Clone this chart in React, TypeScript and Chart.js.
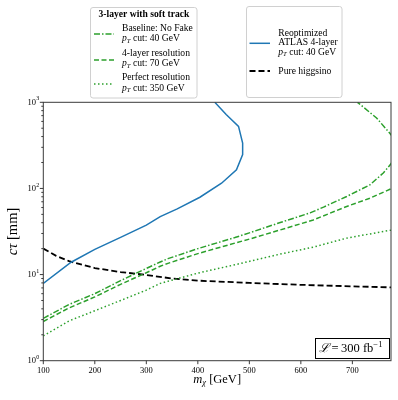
import { useEffect, useRef } from "react";
import { Chart, registerables } from "chart.js";

Chart.register(...registerables);

// ---------- data ----------
const BLUE_MASS = [100, 154, 200, 250, 300, 327, 360, 404, 446, 475, 487, 487, 479, 455, 433];
const BLUE_CTAU = [7.9, 13.9, 19.6, 27, 37.5, 47, 58, 79, 115, 165, 247, 337, 525, 720, 1000];

const BASE_MASS = [100, 150, 200, 250, 300, 327, 342, 400, 472, 500, 560, 618, 644, 689, 734, 760, 775, 790, 775, 747, 710];
const BASE_CTAU = [3.1, 4.5, 6.0, 8.5, 11.8, 14, 15.3, 20, 26.9, 30.5, 40.2, 52, 60.7, 80.7, 110, 151, 193, 290, 421, 658, 1000];

const FOUR_MASS = [100, 150, 200, 250, 300, 327, 342, 400, 472, 500, 560, 624, 689, 734, 775];
const FOUR_CTAU = [2.85, 4.1, 5.5, 7.7, 10.5, 12.5, 13.5, 17.5, 23.2, 25.8, 33, 43, 61.8, 77, 99];

const PERF_MASS = [100, 150, 200, 250, 300, 327, 400, 472, 560, 624, 689, 775];
const PERF_CTAU = [1.94, 2.9, 3.8, 5.0, 6.6, 7.9, 10.4, 13, 17.3, 20.8, 26.5, 32.8];

const HIGG_MASS = [100, 125, 150, 200, 250, 300, 350, 400, 500, 600, 700, 775];
const HIGG_CTAU = [20, 16.5, 14.3, 11.9, 10.7, 9.9, 9.0, 8.5, 8.0, 7.6, 7.3, 7.1];

const X_TICKS = [100, 200, 300, 400, 500, 600, 700];
const Y_DECADES = [0, 1, 2, 3];
const X_MIN = 100;
const X_MAX = 775;

const LEG1_TITLE = "3-layer with soft track";
const LEG1_LINES = ["Baseline: No Fake", "4-layer resolution", "Perfect resolution"];
const LEG1_CUTS = [" cut: 40 GeV", " cut: 70 GeV", " cut: 350 GeV"];
const LEG2_LINES = ["Reoptimized", "ATLAS 4-layer"];
const LEG2_CUT = " cut: 40 GeV";
const LEG2_HIGG = "Pure higgsino";
const LUMI_TEXT = "\u2009=\u2009300 fb";

const GREEN = "#2ca02c";
const BLUE = "#1f77b4";
const SERIF = "'Liberation Serif', 'Times New Roman', serif";

const DASHDOT = [6, 2, 1.5, 2];
const DASHED = [5, 2.5];
const DOTTED = [1.5, 2.5];
const BLACKDASH = [6, 3];

function pts(xs: number[], ys: number[]) {
  return xs.map((x, i) => ({ x, y: ys[i] }));
}

function drawPT(ctx: CanvasRenderingContext2D, x: number, y: number, rest: string, size: number) {
  ctx.textAlign = "left";
  ctx.textBaseline = "middle";
  ctx.font = `italic ${size}px ${SERIF}`;
  ctx.fillText("p", x, y);
  let w = ctx.measureText("p").width;
  ctx.font = `italic ${size * 0.7}px ${SERIF}`;
  ctx.fillText("T", x + w, y + 2);
  w += ctx.measureText("T").width;
  ctx.font = `${size}px ${SERIF}`;
  ctx.fillText(rest, x + w, y);
}

function roundRect(ctx: CanvasRenderingContext2D, x: number, y: number, w: number, h: number, r: number) {
  ctx.beginPath();
  ctx.moveTo(x + r, y);
  ctx.lineTo(x + w - r, y);
  ctx.quadraticCurveTo(x + w, y, x + w, y + r);
  ctx.lineTo(x + w, y + h - r);
  ctx.quadraticCurveTo(x + w, y + h, x + w - r, y + h);
  ctx.lineTo(x + r, y + h);
  ctx.quadraticCurveTo(x, y + h, x, y + h - r);
  ctx.lineTo(x, y + r);
  ctx.quadraticCurveTo(x, y, x + r, y);
  ctx.closePath();
}

function handle(ctx: CanvasRenderingContext2D, x0: number, x1: number, y: number, color: string, dash: number[], lw: number) {
  ctx.save();
  ctx.strokeStyle = color;
  ctx.lineWidth = lw;
  ctx.setLineDash(dash);
  ctx.beginPath();
  ctx.moveTo(x0, y);
  ctx.lineTo(x1, y);
  ctx.stroke();
  ctx.restore();
}

const decorPlugin = {
  id: "decor",
  afterDraw(chart: any) {
    const ctx: CanvasRenderingContext2D = chart.ctx;
    const a = chart.chartArea;
    const xs = chart.scales.x;
    const ys = chart.scales.y;
    ctx.save();

    // frame
    ctx.strokeStyle = "#3a3a3a";
    ctx.lineWidth = 1;
    ctx.setLineDash([]);
    ctx.strokeRect(a.left, a.top, a.right - a.left, a.bottom - a.top);

    // x ticks
    ctx.fillStyle = "#000";
    ctx.font = `8.5px ${SERIF}`;
    ctx.textAlign = "center";
    ctx.textBaseline = "top";
    for (const v of X_TICKS) {
      const px = xs.getPixelForValue(v);
      ctx.beginPath();
      ctx.moveTo(px, a.bottom);
      ctx.lineTo(px, a.bottom + 3.5);
      ctx.stroke();
      ctx.fillText(String(v), px, a.bottom + 6);
    }

    // y ticks
    for (const d of Y_DECADES) {
      const py = ys.getPixelForValue(Math.pow(10, d));
      ctx.beginPath();
      ctx.moveTo(a.left, py);
      ctx.lineTo(a.left - 3.5, py);
      ctx.stroke();
      ctx.textAlign = "right";
      ctx.textBaseline = "middle";
      ctx.font = `6px ${SERIF}`;
      const supW = ctx.measureText(String(d)).width;
      ctx.fillText(String(d), a.left - 4, py - 3.5);
      ctx.font = `8.5px ${SERIF}`;
      ctx.fillText("10", a.left - 4 - supW - 0.3, py);
      if (d < 3) {
        for (let k = 2; k <= 9; k++) {
          const pm = ys.getPixelForValue(k * Math.pow(10, d));
          ctx.beginPath();
          ctx.moveTo(a.left, pm);
          ctx.lineTo(a.left - 2, pm);
          ctx.stroke();
        }
      }
    }

    // x axis title
    {
      const cx = (a.left + a.right) / 2;
      const cy = 380;
      ctx.textBaseline = "middle";
      ctx.textAlign = "left";
      ctx.font = `italic 12.5px ${SERIF}`;
      const wm = ctx.measureText("m").width;
      ctx.font = `italic 8.5px ${SERIF}`;
      const wc = ctx.measureText("χ").width;
      ctx.font = `12.5px ${SERIF}`;
      const wr = ctx.measureText(" [GeV]").width;
      let x = cx - (wm + wc + wr) / 2;
      ctx.font = `italic 12.5px ${SERIF}`;
      ctx.fillText("m", x, cy);
      x += wm;
      ctx.font = `italic 8.5px ${SERIF}`;
      ctx.fillText("χ", x, cy + 3);
      x += wc;
      ctx.font = `12.5px ${SERIF}`;
      ctx.fillText(" [GeV]", x, cy);
    }

    // y axis title
    {
      ctx.save();
      ctx.translate(13, (a.top + a.bottom) / 2);
      ctx.rotate(-Math.PI / 2);
      ctx.textBaseline = "middle";
      ctx.textAlign = "left";
      ctx.font = `italic 14.5px ${SERIF}`;
      const w1 = ctx.measureText("cτ").width;
      ctx.font = `14.5px ${SERIF}`;
      const w2 = ctx.measureText(" [mm]").width;
      let x = -(w1 + w2) / 2;
      ctx.font = `italic 14.5px ${SERIF}`;
      ctx.fillText("cτ", x, 0);
      x += w1;
      ctx.font = `14.5px ${SERIF}`;
      ctx.fillText(" [mm]", x, 0);
      ctx.restore();
    }

    // legend 1
    ctx.save();
    roundRect(ctx, 90.5, 7.5, 106.5, 90.5, 2.5);
    ctx.fillStyle = "rgba(255,255,255,0.9)";
    ctx.fill();
    ctx.strokeStyle = "#d0d0d0";
    ctx.lineWidth = 1;
    ctx.stroke();
    ctx.restore();
    ctx.fillStyle = "#000";
    ctx.font = `bold 9.6px ${SERIF}`;
    ctx.textAlign = "center";
    ctx.textBaseline = "middle";
    ctx.fillText(LEG1_TITLE, 144, 15);
    const l1y = [28.3, 53.3, 77.7];
    const hy = [34, 60, 84];
    const dashes = [DASHDOT, DASHED, DOTTED];
    for (let i = 0; i < 3; i++) {
      handle(ctx, 94, 114, hy[i], GREEN, dashes[i], 1.5);
      ctx.fillStyle = "#000";
      ctx.font = `9.6px ${SERIF}`;
      ctx.textAlign = "left";
      ctx.textBaseline = "middle";
      ctx.fillText(LEG1_LINES[i], 122, l1y[i]);
      drawPT(ctx, 122, l1y[i] + 10.5, LEG1_CUTS[i], 9.6);
    }

    // legend 2
    ctx.save();
    roundRect(ctx, 246.5, 6.5, 95.5, 91, 2.5);
    ctx.fillStyle = "rgba(255,255,255,0.9)";
    ctx.fill();
    ctx.strokeStyle = "#d0d0d0";
    ctx.lineWidth = 1;
    ctx.stroke();
    ctx.restore();
    handle(ctx, 249.5, 270, 43.3, BLUE, [], 1.5);
    ctx.fillStyle = "#000";
    ctx.font = `9.6px ${SERIF}`;
    ctx.textAlign = "left";
    ctx.textBaseline = "middle";
    ctx.fillText(LEG2_LINES[0], 278.3, 33.3);
    ctx.fillText(LEG2_LINES[1], 278.3, 42.8);
    drawPT(ctx, 278.3, 52.5, LEG2_CUT, 9.6);
    handle(ctx, 249.5, 270, 71, "#000", BLACKDASH, 1.8);
    ctx.fillStyle = "#000";
    ctx.font = `9.6px ${SERIF}`;
    ctx.fillText(LEG2_HIGG, 278.3, 71);

    // luminosity box
    ctx.fillStyle = "#fff";
    ctx.fillRect(315.5, 338.5, 74, 20);
    ctx.strokeStyle = "#000";
    ctx.lineWidth = 1;
    ctx.strokeRect(315.5, 338.5, 74, 20);
    ctx.fillStyle = "#000";
    ctx.textBaseline = "middle";
    ctx.textAlign = "left";
    let lx = 319;
    ctx.font = `italic 12.5px 'DejaVu Serif', ${SERIF}`;
    ctx.fillText("ℒ", lx, 349);
    lx += ctx.measureText("ℒ").width;
    ctx.font = `12.5px ${SERIF}`;
    ctx.fillText(LUMI_TEXT, lx, 349);
    lx += ctx.measureText(LUMI_TEXT).width;
    ctx.font = `8.5px ${SERIF}`;
    ctx.fillText("−1", lx, 344.5);

    ctx.restore();
  },
};

export default function App() {
  const ref = useRef<HTMLCanvasElement | null>(null);

  useEffect(() => {
    document.body.style.margin = "0";
    const canvas = ref.current;
    if (!canvas) return;
    const mk = (label: string, xs: number[], ys: number[], color: string, dash: number[], lw: number) => ({
      label,
      data: pts(xs, ys),
      borderColor: color,
      backgroundColor: color,
      borderDash: dash,
      borderWidth: lw,
      pointRadius: 0,
      tension: 0,
      fill: false,
      showLine: true,
    });
    const chart = new Chart(canvas, {
      type: "line",
      data: {
        datasets: [
          mk("Reoptimized ATLAS 4-layer", BLUE_MASS, BLUE_CTAU, BLUE, [], 1.5),
          mk("Baseline: No Fake", BASE_MASS, BASE_CTAU, GREEN, DASHDOT, 1.5),
          mk("4-layer resolution", FOUR_MASS, FOUR_CTAU, GREEN, DASHED, 1.5),
          mk("Perfect resolution", PERF_MASS, PERF_CTAU, GREEN, DOTTED, 1.5),
          mk("Pure higgsino", HIGG_MASS, HIGG_CTAU, "#000", BLACKDASH, 1.8),
        ] as any,
      },
      options: {
        animation: false,
        responsive: false,
        devicePixelRatio: 1,
        layout: { padding: { left: 0, right: 7, top: 102.3, bottom: 0 } },
        plugins: { legend: { display: false }, tooltip: { enabled: false } },
        scales: {
          x: {
            type: "linear",
            min: X_MIN,
            max: X_MAX,
            grid: { display: false },
            border: { display: false },
            ticks: { display: false },
            afterFit: (s: any) => {
              s.height = 39.3;
            },
          },
          y: {
            type: "logarithmic",
            min: 1,
            max: 1000,
            grid: { display: false },
            border: { display: false },
            ticks: { display: false },
            afterFit: (s: any) => {
              s.width = 43.3;
            },
          },
        },
      },
      plugins: [decorPlugin],
    } as any);
    return () => chart.destroy();
  }, []);

  return (
    <div style={{ position: "absolute", left: 0, top: 0, width: 398, height: 400, background: "#fff" }}>
      <canvas ref={ref} width={398} height={400} />
    </div>
  );
}
